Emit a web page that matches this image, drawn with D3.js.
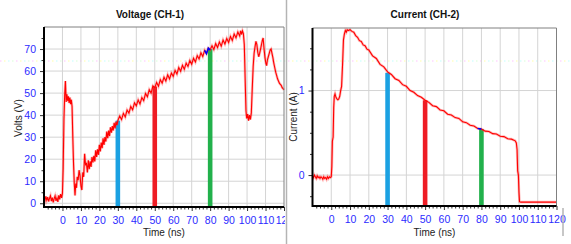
<!DOCTYPE html>
<html>
<head>
<meta charset="utf-8">
<script src="https://cdn.jsdelivr.net/npm/d3@7"></script>
<style>
body { margin: 0; background: #fff; }
text { font-family: "Liberation Sans", Arial, sans-serif; }
</style>
</head>
<body>
<script>
const width = 571, height = 244;

// Voltage trace, CH-1: [time ns, volts]
const voltage = [
  [-10,2.5],[-9.5,1.2],[-9,3.1],[-8.5,1.4],[-8,2.8],[-7.5,0.8],[-7,2.3],[-6.5,3.4],[-6,1.0],[-5.5,2.6],
  [-5,0.4],[-4.5,2.1],[-4,3.3],[-3.5,1.1],[-3,2.4],[-2.5,0.6],[-2,3.6],[-1.5,1.8],[-1,4.2],[-0.5,2.4],
  [0,4.6],[0.4,16],[0.8,38],[1.2,49],[1.6,55.5],[2,46],[2.4,49.5],[2.8,46.5],[3.2,48.5],[3.6,45.5],
  [4,48],[4.4,45],[4.8,47],[5.2,44],[5.6,30],[6,18],[6.4,9],[6.8,3.5],[7.2,9],[7.6,7],[8,12],[8.5,10.5],
  [9,15],[9.5,12.5],[10,8],[10.5,6],[11,14],[11.5,12],[12,22.5],[12.5,17.5],[13,18],[13.5,14],[14,19.5],
  [14.5,15.5],[15,19],[15.5,16.5],[16,21],[16.5,18.5],[17,21.5],[17.5,19],[18,24],[18.5,21],[19,24.5],
  [19.5,22],[20,26.5],[20.5,23.5],[21,27.5],[21.5,25],[22,29.5],[22.5,26.5],[23,30],[23.5,28],[24,32.5],
  [24.5,29.5],[25,33],[25.5,30.5],[26,34.5],[26.5,32],[27,35],[27.5,33],[28,36.5],[28.5,34],[29,37],
  [29.5,35.5],[30,37.5],[31,39.6],[32,38.0],[33,40.8],[34,39.2],[35,42.3],[36,40.9],[37,43.9],[38,42.4],
  [39,45.6],[40,44.2],[41,46.9],[42,45.1],[43,48.0],[44,46.6],[45,49.8],[46,48.3],[47,51.5],[48,50.0],
  [49,53.3],[50,52.4],[51,54.8],[52,53.1],[53,56.1],[54,54.5],[55,57.2],[56,55.5],[57,58.3],[58,56.4],
  [59,59.1],[60,57.6],[61,60.3],[62,58.7],[63,61.6],[64,59.9],[65,62.6],[66,60.8],[67,63.6],[68,62.1],
  [69,64.8],[70,63.1],[71,65.8],[72,64.1],[73,67.0],[74,65.5],[75,68.3],[76,66.6],[77,69.4],[78,67.9],
  [79,70.4],[80,69.6],[81,71.5],[82,69.8],[83,72.5],[84,70.7],[85,73.2],[86,71.3],[87,74.1],[88,72.3],
  [89,74.8],[90,73.0],[91,75.7],[92,73.9],[93,76.8],[94,75.1],[95,77.7],[96,75.9],[96.5,78.3],[97,76.6],
  [97.5,78.2],[98,77],[98.5,72],[99,55],[99.4,42],[99.8,38.5],
  [100.3,40.5],[100.8,37.5],[101.3,40],[101.8,38],[102.3,41],[102.8,52],[103.3,62],[103.8,68],[104.3,71],
  [104.8,73.5],[105.3,72],[105.8,68.5],[106.3,66.5],[106.8,68],[107.3,70],[107.8,72],[108.3,74],[108.7,75],
  [109.2,70],[109.7,66],[110.2,63.5],[110.6,62.5],[111,65],[111.5,66.5],[112,68],[112.5,69.5],[113,70],
  [113.5,68],[114,66],[114.5,63.5],[115,61.5],[115.5,59.5],[116,58],[116.5,56.5],[117,55.5],[117.5,54.5],
  [118,54],[118.5,53.5],[119,52.5],[119.5,52],[120,51.5]
];

// Current trace, CH-2: [time ns, amps]
const current = [
  [-10,-0.01],[-9.5,-0.03],[-9,0.0],[-8.5,-0.02],[-8,-0.04],[-7.5,-0.01],[-7,-0.03],[-6.5,-0.02],[-6,-0.04],
  [-5.5,-0.02],[-5,-0.03],[-4.5,-0.05],[-4,-0.02],[-3.5,-0.04],[-3,-0.03],[-2.5,-0.05],[-2,-0.02],[-1.5,-0.04],
  [-1,-0.02],[-0.5,-0.03],[0,-0.02],[0.3,0.1],[0.6,0.4],[1,0.45],[1.3,0.8],[1.6,0.93],[2,0.96],[2.5,0.92],
  [3,0.9],[3.5,0.89],[4,0.9],[4.5,0.93],[5,1.0],[5.5,1.05],[6,1.3],[6.5,1.6],[7,1.67],[7.5,1.71],[8,1.69],
  [8.5,1.72],[9,1.71],[10,1.72],[11,1.7],[12,1.69],[13,1.65],[14,1.63],[15,1.59],[16,1.58],[17,1.54],[18,1.53],
  [19,1.49],[20,1.48],[22,1.41],[24,1.38],[26,1.31],[28,1.28],[30,1.22],[32,1.19],[34,1.14],[36,1.12],[38,1.07],
  [40,1.05],[42,1.0],[44,0.98],[46,0.94],[48,0.92],[50,0.885],[52,0.86],[54,0.82],[56,0.81],[58,0.77],[60,0.76],
  [62,0.72],[64,0.71],[66,0.68],[68,0.67],[70,0.63],[72,0.62],[74,0.59],[76,0.58],[78,0.55],[80,0.545],[82,0.52],
  [84,0.515],[86,0.49],[88,0.485],[90,0.46],[92,0.455],[94,0.43],[96,0.425],[98,0.405],[98.6,0.38],[99,0.3],
  [99.3,0.05],[99.7,0.0],[100,-0.2],[100.3,-0.315],[101,-0.32],[110,-0.32],[120,-0.32]
];

// cursors
const cursorTimes = [30, 50, 80];
const cursorColors = ["#1ba1e2", "#ee1c24", "#22b14c"];
const voltAtCursor = [37.5, 53, 70];
const currAtCursor = [1.21, 0.885, 0.545];

// ticks
const timeTicks = d3.range(0, 121, 10);
const timeMinor = d3.range(-8, 121, 2).filter(d => d % 10 !== 0);
const voltTicks = d3.range(0, 71, 10);
const voltMinor = d3.range(5, 80, 10);
const currTicks = [0, 1];
const currMinor = [-0.25, 0.25, 0.5, 0.75, 1.25, 1.5];

const svg = d3.select("body").append("svg")
  .attr("width", width)
  .attr("height", height);

// faint dotted line across the picture
const dotColors = ["#ffc4ff", "#ffffa8", "#c0ffff", "#d8ffd8"];
svg.append("g").selectAll("rect")
  .data(d3.range(0, width, 4))
  .enter().append("rect")
  .attr("x", d => d).attr("y", 60.5).attr("width", 1.5).attr("height", 1)
  .attr("fill", (d, i) => dotColors[i % 4]);

function panel(opt) {
  const x = d3.scaleLinear().domain([-10, 120]).range(opt.xr);
  const y = d3.scaleLinear().domain(opt.yd).range(opt.yr);
  const g = svg.append("g").attr("clip-path", `url(#${opt.id})`);
  svg.append("clipPath").attr("id", opt.id)
    .append("rect").attr("x", opt.clip[0]).attr("y", 0)
    .attr("width", opt.clip[1] - opt.clip[0]).attr("height", height);

  const [x0, x1] = opt.xr, [yb, yt] = opt.yr;

  // grid
  g.append("g").selectAll("line").data(timeTicks.filter(d => d < 120))
    .enter().append("line")
    .attr("x1", d => x(d)).attr("x2", d => x(d)).attr("y1", yt).attr("y2", yb)
    .attr("stroke", "#d4d4d4");
  g.append("g").selectAll("line").data(opt.yTicks)
    .enter().append("line")
    .attr("x1", x0).attr("x2", x1).attr("y1", d => y(d)).attr("y2", d => y(d))
    .attr("stroke", "#d4d4d4");

  // cursors
  g.append("g").selectAll("rect").data(cursorTimes)
    .enter().append("rect")
    .attr("x", d => x(d) - 2.3).attr("width", 4.6)
    .attr("y", (d, i) => y(opt.atCursor[i]))
    .attr("height", (d, i) => yb - y(opt.atCursor[i]))
    .attr("fill", (d, i) => cursorColors[i]);

  // trace
  const line = d3.line().x(d => x(d[0])).y(d => y(d[1]));
  g.append("path").datum(opt.data).attr("d", line)
    .attr("fill", "none").attr("stroke", "rgba(255,60,60,0.35)").attr("stroke-width", 2.6);
  g.append("path").datum(opt.data).attr("d", line)
    .attr("fill", "none").attr("stroke", "#ff0000").attr("stroke-width", 1.1);
  g.append("path").datum(opt.data.filter(d => d[0] >= 77 && d[0] <= 80.5)).attr("d", line)
    .attr("fill", "none").attr("stroke", "#0000ff").attr("stroke-width", 1.5);

  // frame
  g.append("path")
    .attr("d", `M${x0},${yt}H${x1}V${yb}`)
    .attr("fill", "none").attr("stroke", "#808080");

  // axes
  const xa = g.append("g").attr("transform", `translate(0,${yb})`)
    .call(d3.axisBottom(x).tickValues(timeTicks).tickSize(4).tickPadding(6).tickFormat(d3.format("d")));
  g.append("g").attr("transform", `translate(0,${yb})`)
    .call(d3.axisBottom(x).tickValues(timeMinor).tickSize(2.5).tickFormat(""))
    .call(a => a.select(".domain").remove());
  const ya = g.append("g").attr("transform", `translate(${x0},0)`)
    .call(d3.axisLeft(y).tickValues(opt.yTicks).tickSize(4).tickPadding(opt.yPad).tickFormat(d3.format("d")));
  g.append("g").attr("transform", `translate(${x0},0)`)
    .call(d3.axisLeft(y).tickValues(opt.yMinor).tickSize(2.5).tickFormat(""))
    .call(a => a.select(".domain").remove());
  g.selectAll(".domain").remove();
  g.selectAll(".tick line").attr("stroke", "#333");
  [xa, ya].forEach(a => a.selectAll("text")
    .attr("fill", "#2b2bff").style("font-size", "10.5px")
    .style("font-family", "'Liberation Sans', Arial, sans-serif"));

  g.append("path")
    .attr("d", `M${x0},${yt}V${yb}H${x1}`)
    .attr("fill", "none").attr("stroke", "#000").attr("stroke-width", 2);

  // titles
  svg.append("text").attr("x", opt.titleX).attr("y", 18)
    .attr("text-anchor", "middle").attr("font-weight", "bold").attr("font-size", 10)
    .attr("fill", "#111").text(opt.title);
  svg.append("text").attr("x", (x0 + x1) / 2).attr("y", 236)
    .attr("text-anchor", "middle").attr("font-size", 10).attr("fill", "#222")
    .text("Time (ns)");
  svg.append("text")
    .attr("transform", `translate(${opt.yLabelX},${opt.yLabelY}) rotate(-90)`)
    .attr("text-anchor", "middle").attr("font-size", 10).attr("fill", "#222")
    .text(opt.yLabel);
}

panel({
  id: "clipV", data: voltage, xr: [44, 284], yd: [-1.7, 80], yr: [207, 27],
  clip: [0, 285], yTicks: voltTicks, yMinor: voltMinor, yPad: 4,
  atCursor: voltAtCursor, title: "Voltage (CH-1)", titleX: 150,
  yLabel: "Volts (V)", yLabelX: 22, yLabelY: 118
});

panel({
  id: "clipC", data: current, xr: [312.5, 556.5], yd: [-0.366, 1.74], yr: [206, 28],
  clip: [288, 571], yTicks: currTicks, yMinor: currMinor, yPad: 4,
  atCursor: currAtCursor, title: "Current (CH-2)", titleX: 425,
  yLabel: "Current (A)", yLabelX: 297, yLabelY: 117
});

// panel dividers
svg.append("line").attr("x1", 286.5).attr("x2", 286.5).attr("y1", 0).attr("y2", height)
  .attr("stroke", "#b4b4b4").attr("stroke-width", 1.5);
svg.append("line").attr("x1", 563).attr("x2", 563).attr("y1", 208).attr("y2", 236)
  .attr("stroke", "#b4b4b4").attr("stroke-width", 1.5);
</script>
</body>
</html>
